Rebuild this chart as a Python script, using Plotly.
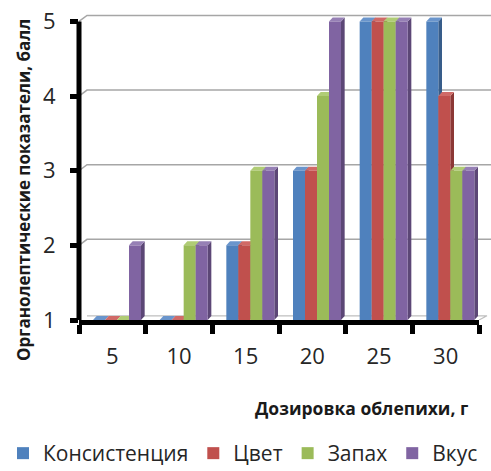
import plotly.graph_objects as go

# Sea-buckthorn dosage (g) and organoleptic scores (points)
doses = ["5", "10", "15", "20", "25", "30"]
series_names = ["Консистенция", "Цвет", "Запах", "Вкус"]
consistency = [1, 1, 2, 3, 5, 5]
colour = [1, 1, 2, 3, 5, 4]
smell = [1, 2, 3, 4, 5, 3]
taste = [2, 2, 3, 5, 5, 3]
y_ticks = [1, 2, 3, 4, 5]

series_values = [consistency, colour, smell, taste]
front_colors = ["#4F81BD", "#C0504D", "#9BBB59", "#8064A2"]
side_colors = ["#385D8A", "#8C3836", "#71893F", "#5C4776"]
top_colors = ["#6A95CC", "#D06A67", "#B0CC75", "#9680B5"]

W, H = 491, 471
ML, MR, MT, MB = 79, 12, 14, 151
plot_w = W - ML - MR
plot_h = H - MT - MB

BASE = 1
Y_MAX = 5
Y_TOP = 5.1             # headroom for the top faces of the tallest bars
px_per_unit = plot_h / (Y_TOP - BASE)

bar_w = 0.18            # width of one bar in category units
first_offset = -0.29    # left edge of the first bar relative to category centre
depth_x = 0.055         # pseudo-3D depth, category units
depth_y = 4 / px_per_unit

fig = go.Figure()

shapes = []
# back-wall gridlines with a short perspective slant
slant_px = 8
wall_dy = 6 / px_per_unit
for v in y_ticks[1:]:
    shapes.append(dict(
        type="path", xref="paper", yref="y", layer="below",
        path=f"M 0 {v} L {slant_px/plot_w} {v + wall_dy} L {(W - ML)/plot_w} {v + wall_dy}",
        line=dict(color="#A6A6A6", width=1.5),
    ))
# floor edge
shapes.append(dict(
    type="path", xref="paper", yref="y", layer="below",
    path=f"M {slant_px/plot_w} {BASE + wall_dy*0.7} L {(W - ML - 4)/plot_w} {BASE + wall_dy*0.7} "
         f"L 1.0 {BASE}",
    line=dict(color="#BFBFBF", width=1.2),
))

for k, (name, vals) in enumerate(zip(series_names, series_values)):
    off = first_offset + k * bar_w
    fig.add_trace(go.Bar(
        name=name, x=doses, y=[v - BASE for v in vals], base=BASE,
        width=bar_w, offset=off,
        marker=dict(color=front_colors[k], line=dict(width=0)),
    ))
    for i, v in enumerate(vals):
        x0 = i + off
        x1 = x0 + bar_w
        # right side face
        if v > BASE:
            shapes.append(dict(
                type="path", xref="x", yref="y", layer="below",
                path=f"M {x1} {BASE} L {x1 + depth_x} {BASE + depth_y} "
                     f"L {x1 + depth_x} {v + depth_y} L {x1} {v} Z",
                fillcolor=side_colors[k], line=dict(width=0),
            ))
        # top face
        shapes.append(dict(
            type="path", xref="x", yref="y", layer="below",
            path=f"M {x0} {v} L {x0 + depth_x} {v + depth_y} "
                 f"L {x1 + depth_x} {v + depth_y} L {x1} {v} Z",
            fillcolor=top_colors[k], line=dict(width=0),
        ))

# value axis line, from the lowest to the highest tick
shapes.append(dict(
    type="line", xref="paper", yref="y", x0=0, x1=0, y0=BASE, y1=Y_MAX,
    line=dict(color="black", width=5), layer="above",
))

tick_font = dict(family="Open Sans", size=22, color="#262626")

plot_bottom = MT + plot_h

fig.update_layout(
    width=W, height=H,
    margin=dict(l=ML, r=MR, t=MT, b=MB, pad=0, autoexpand=False),
    paper_bgcolor="white", plot_bgcolor="white",
    barmode="group",
    showlegend=True,
    legend=dict(
        orientation="h", x=(3 - ML) / plot_w, xanchor="left",
        y=-(433 - plot_bottom) / plot_h, yanchor="top",
        font=dict(family="Open Sans", size=21, color="#262626"),
        itemwidth=30, tracegroupgap=0,
    ),
    shapes=shapes,
    xaxis=dict(
        type="category", range=[-0.5, len(doses) - 0.5],
        showline=True, linecolor="black", linewidth=5,
        ticks="outside", tickson="boundaries", ticklen=9, tickwidth=5,
        tickcolor="black", showgrid=False, zeroline=False,
        tickfont=tick_font, ticklabelstandoff=13,
    ),
    yaxis=dict(
        range=[BASE, Y_TOP], tickvals=y_ticks,
        showline=False,
        ticks="outside", ticklen=8, tickwidth=5, tickcolor="black",
        showgrid=False, zeroline=False,
        tickfont=tick_font, ticklabelstandoff=10,
    ),
    annotations=[
        dict(text="<b>Органолептические показатели, балл</b>",
             xref="paper", yref="paper",
             x=(23 - ML) / plot_w, y=(plot_bottom - 190) / plot_h,
             textangle=-90, showarrow=False,
             font=dict(family="Open Sans", size=17, color="#1a1a1a"),
             xanchor="center", yanchor="middle"),
        dict(text="<b>Дозировка облепихи, г</b>",
             xref="paper", yref="paper",
             x=(361 - ML) / plot_w, y=-(408 - plot_bottom) / plot_h,
             showarrow=False,
             font=dict(family="Open Sans", size=17.5, color="#1a1a1a"),
             xanchor="center", yanchor="middle"),
    ],
)

fig.write_html("out.html")
